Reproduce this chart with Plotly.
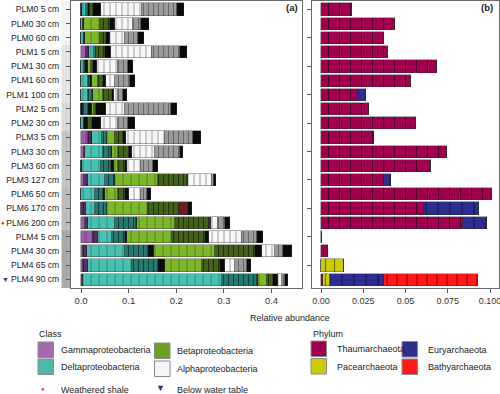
import plotly.graph_objects as go

samples = ["PLM0 5 cm", "PLM0 30 cm", "PLM0 60 cm", "PLM1 5 cm", "PLM1 30 cm", "PLM1 60 cm",
           "PLM1 100 cm", "PLM2 5 cm", "PLM2 30 cm", "PLM3 5 cm", "PLM3 30 cm", "PLM3 60 cm",
           "PLM3 127 cm", "PLM6 50 cm", "PLM6 170 cm", "PLM6 200 cm", "PLM4 5 cm", "PLM4 30 cm",
           "PLM4 65 cm", "PLM4 90 cm"]
groups = ["PLM0", "PLM1", "PLM2", "PLM3", "PLM6", "PLM4"]
group_sizes = [3, 4, 2, 4, 3, 4]

# Panel (a): Proteobacteria classes (relative abundance), split light / dark / black-tail OTU groups
gamma_light = [0, 0, 0, 0.0105, 0, 0, 0, 0, 0, 0.0154, 0.006, 0, 0.007, 0, 0, 0.0084, 0.026, 0.004, 0.004, 0.002]
gamma_dark  = [0, 0, 0, 0.0035, 0, 0, 0, 0, 0, 0.0056, 0.0024, 0, 0.007, 0, 0.0098, 0.0056, 0.009, 0.008, 0.010, 0.003]
gamma_black = [0.003, 0, 0, 0.003, 0, 0, 0, 0.005, 0, 0.0028, 0, 0.002, 0, 0, 0, 0, 0, 0, 0, 0]
delta_light = [0.008, 0.004, 0.0056, 0.010, 0.006, 0.014, 0.0154, 0, 0.007, 0.0196, 0.0385, 0.0406, 0.0364, 0.029, 0.0196, 0.0574, 0.0294, 0.0805, 0.0924, 0.29]
delta_dark  = [0.004, 0, 0, 0.004, 0.002, 0.005, 0.007, 0.010, 0, 0.0105, 0.016, 0.021, 0.021, 0.0175, 0.0245, 0.0434, 0.028, 0.049, 0.056, 0.0735]
delta_black = [0.003, 0.002, 0.003, 0, 0.006, 0.0035, 0.0035, 0.008, 0.007, 0, 0.003, 0.0056, 0, 0.003, 0, 0.002, 0.0035, 0.0126, 0.014, 0.0035]
beta_light  = [0, 0.033, 0.0315, 0, 0.006, 0.014, 0.021, 0.004, 0.003, 0.0175, 0.012, 0.0084, 0.091, 0.029, 0.0875, 0.0805, 0.0945, 0.1275, 0.077, 0.0175]
beta_dark   = [0.007, 0.021, 0.012, 0.0196, 0.006, 0.0105, 0.0175, 0.005, 0.007, 0.0175, 0.023, 0.014, 0.0595, 0.014, 0.0665, 0.0735, 0.07, 0.084, 0.0385, 0.014]
beta_black  = [0.016, 0.0105, 0.009, 0.0126, 0.007, 0.005, 0.0056, 0.021, 0.018, 0.0049, 0.007, 0.005, 0.0035, 0.0084, 0, 0.002, 0.0084, 0.0154, 0.0105, 0.0105]
other_seg   = [0, 0, 0, 0, 0, 0, 0, 0, 0, 0, 0, 0, 0, 0, 0.0175, 0, 0, 0, 0, 0]
alpha_light = [0.0875, 0.0385, 0.0315, 0.0854, 0.0455, 0.0196, 0.007, 0.0385, 0.036, 0.0826, 0.0476, 0.030, 0.049, 0.025, 0, 0.0154, 0.0686, 0.0266, 0.021, 0.007]
alpha_gray  = [0.0735, 0.0175, 0.0266, 0.0595, 0.021, 0.0315, 0.012, 0.098, 0.021, 0.0595, 0.0525, 0.0245, 0.005, 0.012, 0, 0.014, 0.0315, 0.0175, 0.0245, 0.007]
alpha_black = [0.014, 0.0168, 0.014, 0.0154, 0.0105, 0.0105, 0.008, 0.0119, 0.014, 0.0154, 0.007, 0.0112, 0.0035, 0.009, 0.007, 0.0105, 0.014, 0.0175, 0.009, 0.007]

# Panel (b): Archaea phyla
thaum = [0.0183, 0.044, 0.0371, 0.0393, 0.0688, 0.0534, 0.0216, 0.0282, 0.056, 0.0315, 0.0744, 0.0649,
         0.0375, 0.101, 0.0609, 0.0837, 0.0003, 0.004, 0, 0.0014]
pace  = [0, 0, 0, 0, 0, 0, 0, 0, 0, 0, 0, 0, 0, 0, 0, 0, 0, 0, 0.0137, 0.0036]
eury  = [0, 0, 0, 0, 0, 0, 0.0048, 0, 0, 0, 0, 0, 0.0036, 0, 0.0323, 0.0145, 0, 0, 0, 0.0325]
bathy = [0, 0, 0, 0, 0, 0, 0, 0, 0, 0, 0, 0, 0, 0, 0, 0, 0, 0, 0, 0.0556]

class_names = ["Gammaproteobacteria", "Deltaproteobacteria", "Betaproteobacteria", "Alphaproteobacteria"]
phylum_names = ["Thaumarchaeota", "Pacearchaeota", "Euryarchaeota", "Bathyarchaeota"]
weathered = ["PLM6 200 cm"]
below_wt = ["PLM4 90 cm"]

xa_ticks = [0, 0.1, 0.2, 0.3, 0.4]
xa_text = ["0.0", "0.1", "0.2", "0.3", "0.4"]
xb_ticks = [0, 0.025, 0.05, 0.075, 0.1]
xb_text = ["0.00", "0.025", "0.05", "0.075", "0.100"]

FONT = "Liberation Sans, Arial, sans-serif"
W, H = 500, 394

def px(x):
    return x / W

def py(y):
    return 1 - y / H

fig = go.Figure()
BW = 0.86
EDGE = dict(color="rgba(45,45,45,0.75)", width=0.5)

def add_seg(vals, col, stripe, size, sol, xa, ya):
    pat = dict(shape="|", fgcolor=stripe, bgcolor=col, size=size, solidity=sol, fillmode="replace") if stripe else dict(shape="")
    fig.add_trace(go.Bar(y=samples, x=vals, orientation="h", xaxis=xa, yaxis=ya, width=BW,
                         marker=dict(color=col, line=EDGE, pattern=pat),
                         showlegend=False, hoverinfo="skip"))

seg_a = [
    (gamma_light, "#9d5aab", "#6c3a78", 6, 0.15),
    (gamma_dark, "#5c2c66", "#351a3b", 5, 0.2),
    (gamma_black, "#140a16", None, 0, 0),
    (delta_light, "#47c1b1", "#2c8a7e", 8, 0.12),
    (delta_dark, "#257a6f", "#0f3d37", 5, 0.2),
    (delta_black, "#0a0f0e", None, 0, 0),
    (beta_light, "#7cb82b", "#4f7c17", 8, 0.12),
    (beta_dark, "#42621a", "#1f300a", 5, 0.2),
    (beta_black, "#0b0c08", None, 0, 0),
    (other_seg, "#6e1c24", None, 0, 0),
    (alpha_light, "#f7f7f7", "#b0b0b0", 6, 0.2),
    (alpha_gray, "#9a9a9a", "#666666", 5, 0.2),
    (alpha_black, "#0a0a0a", None, 0, 0),
]
for vals, col, stripe, size, sol in seg_a:
    add_seg(vals, col, stripe, size, sol, "x", "y")

seg_b = [
    (thaum, "#a1004f", "#4d0026", 11, 0.1),
    (pace, "#cdcc00", "#6d6c00", 9, 0.12),
    (eury, "#2e2e91", "#15154d", 12, 0.1),
    (bathy, "#ff1a1a", "#9a0000", 10, 0.1),
]
for vals, col, stripe, size, sol in seg_b:
    add_seg(vals, col, stripe, size, sol, "x2", "y2")

shapes = []
# group band beside sample labels
band_cols = ["#f3f3f3", "#e3e3e3", "#d9d9d9", "#c4c4c4", "#bcbcbc", "#a9a9a9"]
start = 0
for g, n, c in zip(groups, group_sizes, band_cols):
    shapes.append(dict(type="rect", xref="paper", yref="y", x0=px(61.5), x1=px(71),
                       y0=start - 0.5, y1=start + n - 0.5, fillcolor=c, line=dict(width=0), layer="below"))
    start += n
shapes[0]["y0"] = -0.6
shapes[-1]["y1"] = 19.6

ann = []

def note(text, x, y, font, xanchor="center", yref="paper"):
    ann.append(dict(text=text, x=x, y=y, xref="paper", yref=yref, xanchor=xanchor, yanchor="middle",
                    showarrow=False, font=font))

note("<b>(a)</b>", px(292), py(8), dict(family=FONT, size=9.5, color="#222"))
note("<b>(b)</b>", px(487), py(8), dict(family=FONT, size=9.5, color="#222"))
for s in weathered:
    note("●", px(2.5), s, dict(size=6, color="#ff1a1a"), yref="y")
for s in below_wt:
    note("▼", px(5), s, dict(size=7, color="#2e2e8f"), yref="y")
note("Relative abundance", px(290), py(317.5), dict(family=FONT, size=9, color="#222"))

LF = dict(family=FONT, size=9, color="#222")
note("Class", px(37), py(334), LF, xanchor="left")
note("Phylum", px(310.5), py(334), LF, xanchor="left")

def legend_box(x0, y0, col, label, tx):
    shapes.append(dict(type="rect", xref="paper", yref="paper", x0=px(x0), x1=px(x0 + 15.5),
                       y0=py(y0 + 15.5), y1=py(y0), fillcolor=col, line=dict(color="#8a8a8a", width=1)))
    note(label, px(tx), py(y0 + 8), LF, xanchor="left")

legend_box(38, 342, "#a569b0", class_names[0], 59)
legend_box(38, 359, "#4bb8a9", class_names[1], 59)
legend_box(154.5, 343, "#6aa121", class_names[2], 175)
legend_box(154.5, 361, "#f5f5f5", class_names[3], 175)
legend_box(311, 341, "#a0004f", phylum_names[0], 335)
legend_box(311, 358.5, "#cccc00", phylum_names[1], 335)
legend_box(402, 341.5, "#2e2e8f", phylum_names[2], 426)
legend_box(402, 359, "#ff1a1a", phylum_names[3], 426)

note("●", px(43.3), py(389), dict(size=6, color="#ff1a1a"))
note("Weathered shale", px(59), py(389.5), LF, xanchor="left")
note("▼", px(160), py(388), dict(size=9, color="#2e2e8f"))
note("Below water table", px(175), py(389.5), LF, xanchor="left")

ydom = [py(288), py(0.8)]
axis_common = dict(showgrid=False, zeroline=False, showline=True, mirror=True, linecolor="#6a6a6a",
                   linewidth=1, ticks="outside", ticklen=4, tickcolor="#555", tickwidth=1, automargin=False)
fig.update_layout(
    width=W, height=H, margin=dict(l=0, r=0, t=0, b=0, autoexpand=False),
    paper_bgcolor="white", plot_bgcolor="white", barmode="stack", bargap=0,
    font=dict(family=FONT, size=9, color="#222"),
    xaxis=dict(domain=[px(71), px(302)], range=[-0.021, 0.464], tickvals=xa_ticks, ticktext=xa_text,
               anchor="y", tickfont=dict(family=FONT, size=9.5, color="#333"), **axis_common),
    yaxis=dict(domain=ydom, type="category", categoryorder="array", categoryarray=samples,
               range=[19.6, -0.6], anchor="x", tickfont=dict(family=FONT, size=8.6, color="#222"),
               ticklabelstandoff=5, **axis_common),
    xaxis2=dict(domain=[px(312), px(499)], range=[-0.0054, 0.1053], tickvals=xb_ticks, ticktext=xb_text,
                anchor="y2", tickfont=dict(family=FONT, size=9, color="#333"),
                ticklabeloverflow="allow", **axis_common),
    yaxis2=dict(domain=ydom, matches="y", anchor="x2", showticklabels=False, type="category",
                categoryorder="array", categoryarray=samples, **axis_common),
    shapes=shapes, annotations=ann,
)

fig.write_html("out.html", config={"displayModeBar": False},
               post_script="document.body.style.margin='0px';document.body.style.padding='0px';")
